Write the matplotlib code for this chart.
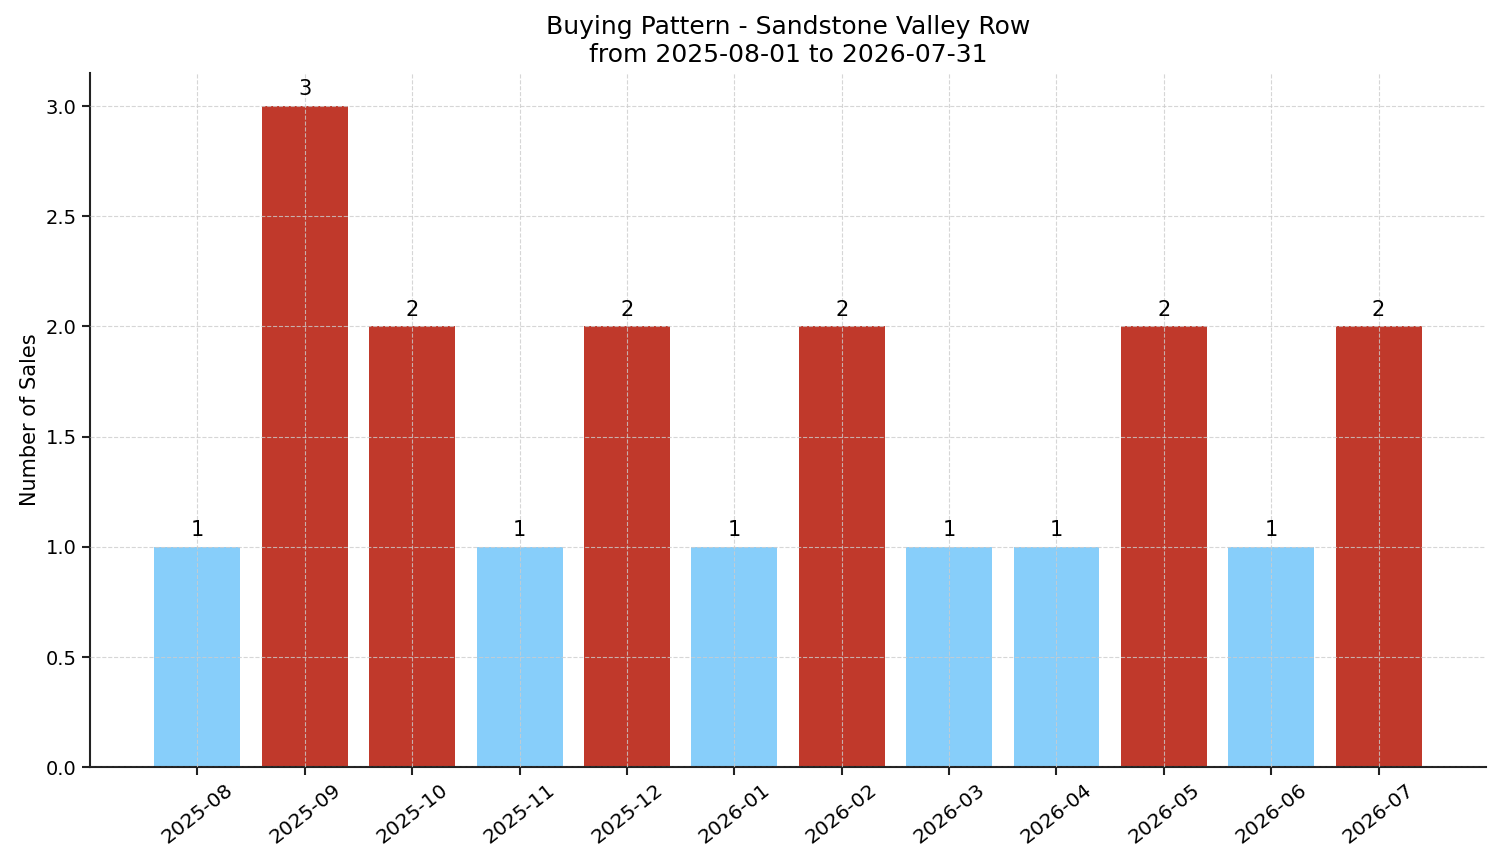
import matplotlib
matplotlib.use("Agg")
import matplotlib.pyplot as plt
import numpy as np

# monthly sales counts
months = ["2025-08", "2025-09", "2025-10", "2025-11", "2025-12", "2026-01",
          "2026-02", "2026-03", "2026-04", "2026-05", "2026-06", "2026-07"]
sales = [1, 3, 2, 1, 2, 1, 2, 1, 1, 2, 1, 2]

light = "#87CEFA"
dark = "#C0392B"
colors = [dark if v >= 2 else light for v in sales]

fig, ax = plt.subplots(figsize=(15.01, 8.63), dpi=100)
fig.subplots_adjust(left=0.06, right=0.99, top=0.9154, bottom=0.111)

x = np.arange(len(months))
bars = ax.bar(x, sales, width=0.8, color=colors, zorder=1)
for b, v in zip(bars, sales):
    ax.text(b.get_x() + b.get_width() / 2, v + 0.03, str(v),
            ha="center", va="bottom", fontsize=15)

ax.set_xticks(x)
ax.set_xticklabels(months, rotation=38, fontsize=14.5)
ax.tick_params(axis="y", labelsize=14)
ax.tick_params(width=1.5, length=6, color="#222222")
ax.set_xlim(-1, 12)
ax.set_ylim(0, 3.15)
ax.set_ylabel("Number of Sales", fontsize=15)
ax.set_title("Buying Pattern - Sandstone Valley Row\nfrom 2025-08-01 to 2026-07-31",
             fontsize=18, pad=8)
ax.grid(True, linestyle="--", color="#cccccc", alpha=0.8, linewidth=0.8, zorder=2)
ax.set_axisbelow(False)
ax.spines["top"].set_visible(False)
ax.spines["right"].set_visible(False)
for s in ["left", "bottom"]:
    ax.spines[s].set_linewidth(1.5)
    ax.spines[s].set_color("#222222")

plt.savefig("out.png", dpi=100)
